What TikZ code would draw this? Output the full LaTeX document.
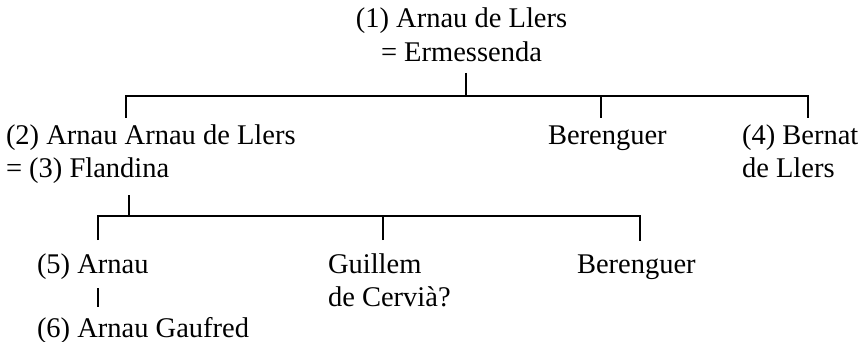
\documentclass[tikz,border=0pt]{standalone}
\usepackage{fontspec}
\setmainfont{Liberation Serif}
\newcommand\gtwo[2]{\vtop{\hbox{#1}\hbox{#2}}}
\newcommand\gctr[2]{\vtop{\halign{\hfil##\hfil\cr #1\cr #2\cr}}}
\begin{document}
\begin{tikzpicture}[x=1pt,y=-1pt,
  person/.style={inner sep=0pt,outer sep=0pt,anchor=base west,font=\fontsize{28.5}{33.5}\selectfont},
  link/.style={line width=1.1pt,draw=black}]
\useasboundingbox (0,0) rectangle (867,342);
% persons
\node[person,anchor=base] (p1) at (461.5,28) {\gctr{(1) Arnau de Llers}{= Ermessenda}};
\node[person] (p2) at (6,144) {\gtwo{(2) Arnau Arnau de Llers}{= (3) Flandina}};
\node[person] (pB1) at (548,144) {Berenguer};
\node[person] (p4) at (742,144) {\gtwo{(4) Bernat}{de Llers}};
\node[person] (p5) at (37,273) {(5) Arnau};
\node[person] (pG) at (328,273) {\gtwo{Guillem}{de Cervià?}};
\node[person] (pB2) at (577,273) {Berenguer};
\node[person] (p6) at (37,337) {(6) Arnau Gaufred};
% connector points
\coordinate (s1) at (466,73);
\coordinate (j1) at (466,96);
\coordinate (t2) at (126,118);
\coordinate (tB1) at (601,118);
\coordinate (t4) at (808,118);
\coordinate (s2) at (129,195);
\coordinate (j2) at (129,216);
\coordinate (t5) at (98,240);
\coordinate (tG) at (383,240);
\coordinate (tB2) at (640,241);
\coordinate (s5) at (98,288);
\coordinate (t6) at (98,307);
% generation 1
\draw[link] (s1) -- (j1);
\draw[link] (t2) -- (t2|-j1) -- (t4|-j1) -- (t4);
\draw[link] (tB1) -- (tB1|-j1);
% generation 2
\draw[link] (s2) -- (j2);
\draw[link] (t5) -- (t5|-j2) -- (tB2|-j2) -- (tB2);
\draw[link] (tG) -- (tG|-j2);
% generation 3
\draw[link] (s5) -- (t6);
\end{tikzpicture}
\end{document}
